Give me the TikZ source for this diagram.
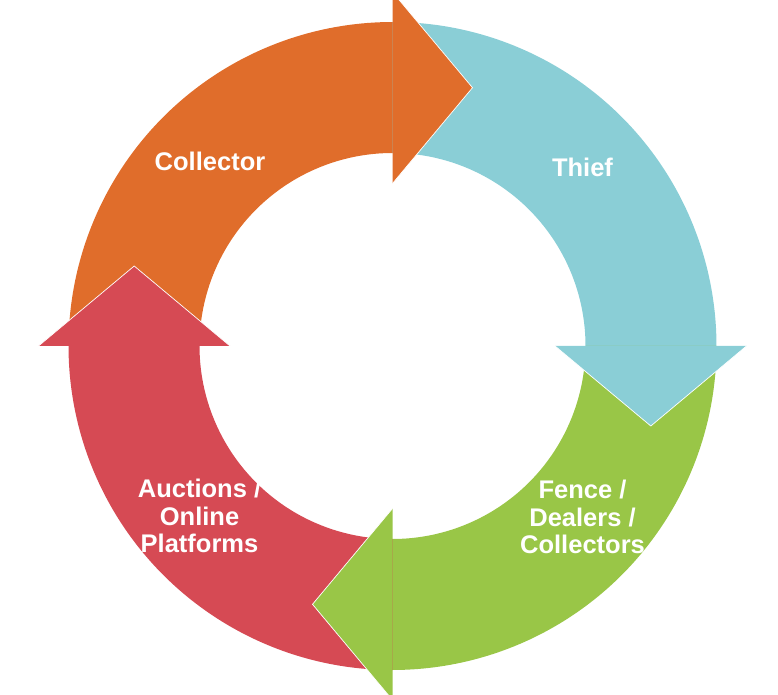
\documentclass[tikz,border=0pt]{standalone}
\usepackage{fontspec}
\setmainfont{Liberation Sans}
\usetikzlibrary{calc}
\definecolor{cOrange}{RGB}{224,109,43}
\definecolor{cBlue}{RGB}{138,206,214}
\definecolor{cGreen}{RGB}{153,198,71}
\definecolor{cRed}{RGB}{214,74,84}
\tikzset{
  headedge/.style={draw=white, line width=0.7pt},
  lbl/.style={text=white, inner sep=0pt, font=\fontsize{25.5}{27.5}\selectfont\bfseries, align=center}
}
\newcommand{\ringseg}[3]{% color, start angle, end angle (extended 1 degree under the head)
  \fill[#1] ($(C)+(#2:324)$) arc[start angle=#2, end angle=#3-1.5, radius=324]
    -- ($(C)+(#3-1.5:193)$) arc[start angle=#3-1.5, end angle=#2, radius=193] -- cycle;}
\newcommand{\ringhead}[2]{% color, base angle
  \fill[#1] ($(C)+(#2:162.5)$) -- ($(C)+(#2:354)$) -- ($(C)+(#2:258.3)+(#2-90:80)$) -- cycle;
  \draw[headedge] ($(C)+(#2:162.5)$) -- ($(C)+(#2:258.3)+(#2-90:80)$) -- ($(C)+(#2:354)$);}
\begin{document}
\begin{tikzpicture}[x=1pt,y=1pt]
\path[use as bounding box] (0,0) rectangle (778,694);
\coordinate (C) at (392.5,348);
% ring bodies
\ringseg{cOrange}{180}{90}
\ringseg{cBlue}{90}{0}
\ringseg{cGreen}{0}{-90}
\ringseg{cRed}{-90}{-180}
% arrow heads
\ringhead{cOrange}{90}
\ringhead{cBlue}{0}
\ringhead{cGreen}{-90}
\ringhead{cRed}{180}
% labels
\node[lbl, anchor=base] (collector) at (210,523.3) {Collector};
\node[lbl, anchor=base] (thief) at (582.5,517.3) {Thief};
\node[lbl, anchor=north] (fence) at (582.5,214) {Fence /\\Dealers /\\Collectors};
\node[lbl, anchor=north] (auctions) at (199.5,215) {Auctions /\\Online\\Platforms};
\end{tikzpicture}
\end{document}
